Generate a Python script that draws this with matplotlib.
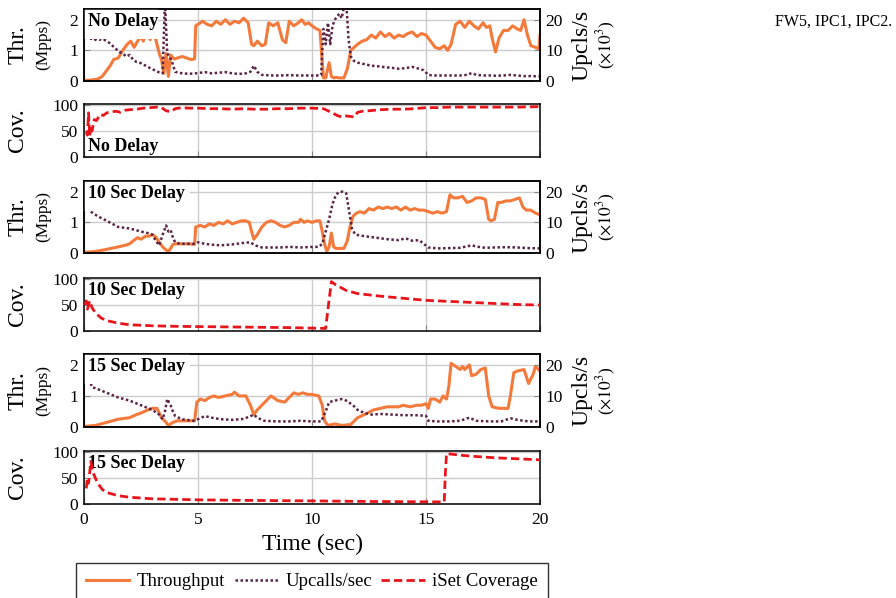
import matplotlib
matplotlib.use("Agg")
import matplotlib.pyplot as plt
from matplotlib.patches import Rectangle

plt.rcParams["font.family"] = ["Liberation Serif", "DejaVu Serif"]
plt.rcParams["mathtext.fontset"] = "stix"

# ---- data (time in sec, thr in Mpps, upcalls in x10^3/s, coverage in %) ----
# no delay
t_thr_nd = [0, 0.3, 0.6, 0.8, 1.0, 1.15, 1.3, 1.5, 1.7, 1.9, 2.05, 2.2, 2.35, 2.5, 2.6, 2.75, 2.9, 3.0, 3.15,
            3.3, 3.4, 3.5, 3.6, 3.7, 3.8, 3.95, 4.1, 4.3, 4.5, 4.7, 4.85, 4.9, 5.0, 5.2, 5.4, 5.6, 5.8, 6.0,
            6.2, 6.4, 6.6, 6.8, 7.0, 7.2, 7.35, 7.45, 7.6, 7.8, 7.95, 8.1, 8.3, 8.5, 8.7, 8.85, 9.0, 9.2,
            9.4, 9.55, 9.7, 9.85, 10.0, 10.2, 10.35, 10.5, 10.6, 10.75, 10.85, 10.95, 11.05, 11.2, 11.4,
            11.55, 11.7, 11.85, 12.0, 12.2, 12.4, 12.6, 12.8, 13.0, 13.2, 13.4, 13.6, 13.8, 14.0, 14.2,
            14.4, 14.6, 14.8, 15.0, 15.2, 15.4, 15.6, 15.8, 15.95, 16.1, 16.3, 16.5, 16.7, 16.9, 17.1,
            17.3, 17.5, 17.65, 17.8, 17.9, 18.05, 18.2, 18.4, 18.6, 18.8, 19.0, 19.15, 19.3, 19.45, 19.6,
            19.8, 19.95, 20.0]
thr_nd = [0.02, 0.03, 0.06, 0.15, 0.35, 0.5, 0.7, 0.75, 1.0, 1.2, 1.3, 1.1, 1.3, 1.45, 1.3, 1.7, 1.35, 1.6,
          1.35, 0.9, 0.7, 0.25, 0.9, 0.15, 0.85, 0.72, 0.75, 0.8, 0.75, 0.7, 0.72, 1.8, 1.85, 1.95, 1.85,
          1.8, 1.95, 1.85, 2.0, 1.85, 1.95, 1.9, 2.05, 1.9, 1.2, 1.15, 1.3, 1.15, 1.2, 1.9, 1.8, 1.9, 1.35,
          1.25, 1.95, 1.8, 1.9, 2.0, 1.85, 1.9, 1.8, 1.7, 1.65, 0.1, 0.1, 0.6, 0.15, 0.1, 0.12, 0.1, 0.1,
          0.4, 1.0, 1.1, 1.2, 1.3, 1.35, 1.5, 1.4, 1.6, 1.45, 1.55, 1.4, 1.5, 1.45, 1.55, 1.6, 1.45, 1.55,
          1.5, 1.3, 1.1, 1.05, 1.15, 1.0, 1.2, 1.85, 1.95, 1.75, 1.95, 1.8, 1.7, 1.9, 1.75, 1.8, 1.4, 0.95,
          1.4, 1.65, 1.65, 1.8, 1.7, 1.65, 2.0, 1.5, 1.15, 1.1, 1.05, 1.5]
t_up_nd = [0.3, 0.4, 0.5, 0.6, 0.7, 0.8, 0.9, 1.0, 1.1, 1.25, 1.4, 1.55, 1.7, 1.85, 2.0, 2.15, 2.3, 2.5, 2.7,
           2.9, 3.1, 3.3, 3.45, 3.55, 3.65, 3.75, 3.85, 4.0, 4.2, 4.5, 4.8, 5.0, 5.3, 5.6, 5.9, 6.2, 6.5,
           6.8, 7.1, 7.3, 7.45, 7.6, 7.8, 8.2, 8.6, 9.0, 9.4, 9.8, 10.2, 10.4, 10.5, 10.6, 10.7, 10.8,
           10.9, 11.0, 11.1, 11.2, 11.3, 11.4, 11.5, 11.6, 11.7, 11.85, 12.0, 12.3, 12.6, 12.9, 13.2, 13.5,
           13.8, 14.1, 14.4, 14.7, 14.9, 15.1, 15.3, 15.7, 16.1, 16.5, 16.8, 17.0, 17.2, 17.5, 17.8, 18.1,
           18.4, 18.7, 19.0, 19.3, 19.6, 20.0]
up_nd = [13.4, 16, 13.4, 18, 13.4, 15, 13.4, 13.0, 12.5, 11.5, 10.5, 9.5, 9.0, 8.0, 8.5, 7.0, 6.2, 5.8, 5.0,
         4.2, 3.5, 2.8, 2.5, 26, 9.0, 8.0, 6.5, 3.0, 2.6, 2.4, 2.4, 2.6, 2.9, 2.5, 2.7, 2.9, 2.5, 2.3, 2.5,
         3.0, 5.0, 3.0, 2.0, 1.8, 1.8, 1.9, 1.8, 1.8, 1.8, 1.9, 17, 12, 19, 12, 18, 20, 21, 22, 20.5, 24,
         26, 14, 8.0, 6.5, 6.0, 5.5, 5.0, 4.8, 4.5, 4.3, 4.0, 4.2, 4.6, 4.0, 3.5, 2.0, 1.8, 1.8, 1.8, 1.8,
         2.0, 2.6, 2.0, 1.8, 1.8, 1.7, 1.8, 2.0, 1.8, 1.6, 1.6, 1.5]
t_cov_nd = [0.1, 0.15, 0.2, 0.25, 0.3, 0.35, 0.45, 0.55, 0.7, 0.85, 1.0, 1.2, 1.4, 1.6, 1.8, 2.0, 2.3, 2.6,
            2.9, 3.2, 3.4, 3.6, 3.8, 4.0, 4.3, 4.6, 5.0, 5.5, 6.0, 6.5, 7.0, 7.5, 8.0, 8.5, 9.0, 9.5, 10.0,
            10.5, 10.8, 11.1, 11.3, 11.5, 11.7, 11.85, 12.0, 12.2, 12.5, 13.0, 13.5, 14.0, 14.5, 15.0, 15.5,
            16.0, 17.0, 18.0, 19.0, 20.0]
cov_nd = [48, 42, 85, 40, 60, 50, 72, 70, 82, 80, 85, 87, 88, 86, 90, 91, 92, 94, 95, 96, 95, 89, 87, 93, 95,
          94, 94, 93, 93, 92, 93, 92, 92, 93, 93, 94, 94, 93, 87, 80, 77, 79, 78, 77, 86, 88, 89, 91, 92, 92,
          93, 95, 95, 96, 96, 96, 96, 97]

# 10 sec delay
t_thr_10 = [0, 0.5, 1.0, 1.5, 1.8, 2.0, 2.2, 2.35, 2.5, 2.7, 2.85, 3.0, 3.15, 3.3, 3.45, 3.6, 3.7, 3.8, 3.9,
            4.0, 4.3, 4.6, 4.85, 4.9, 5.1, 5.3, 5.5, 5.7, 5.9, 6.1, 6.3, 6.5, 6.7, 6.9, 7.1, 7.25, 7.35,
            7.45, 7.6, 7.8, 8.0, 8.2, 8.4, 8.6, 8.8, 9.0, 9.2, 9.4, 9.5, 9.65, 9.8, 10.0, 10.2, 10.35,
            10.45, 10.55, 10.65, 10.75, 10.85, 10.95, 11.05, 11.2, 11.4, 11.55, 11.65, 11.8, 11.95, 12.1,
            12.3, 12.5, 12.7, 12.9, 13.1, 13.3, 13.5, 13.7, 13.9, 14.1, 14.3, 14.5, 14.7, 14.9, 15.1, 15.3,
            15.5, 15.7, 15.9, 16.05, 16.2, 16.4, 16.6, 16.8, 17.0, 17.2, 17.4, 17.6, 17.75, 17.85, 18.0,
            18.15, 18.3, 18.5, 18.7, 18.9, 19.1, 19.25, 19.4, 19.6, 19.8, 20.0]
thr_10 = [0.02, 0.05, 0.12, 0.2, 0.25, 0.3, 0.42, 0.5, 0.45, 0.55, 0.55, 0.6, 0.52, 0.35, 0.2, 0.1, 0.05,
          0.15, 0.28, 0.3, 0.3, 0.3, 0.28, 0.85, 0.9, 0.85, 0.95, 0.9, 1.0, 0.95, 1.05, 0.95, 1.0, 1.05,
          1.05, 1.0, 0.7, 0.45, 0.6, 0.85, 1.0, 1.05, 1.0, 0.9, 0.85, 0.9, 1.0, 1.0, 1.1, 1.0, 1.05, 1.0,
          1.05, 1.05, 0.7, 0.3, 0.05, 0.2, 0.65, 0.2, 0.15, 0.15, 0.15, 0.4, 0.8, 1.2, 1.3, 1.35, 1.3,
          1.45, 1.4, 1.5, 1.45, 1.5, 1.45, 1.5, 1.4, 1.5, 1.4, 1.45, 1.4, 1.4, 1.35, 1.3, 1.35, 1.3, 1.35,
          1.9, 1.8, 1.8, 1.85, 1.65, 1.7, 1.8, 1.8, 1.75, 1.1, 1.05, 1.1, 1.65, 1.65, 1.7, 1.7, 1.75, 1.8,
          1.5, 1.4, 1.4, 1.3, 1.25]
t_up_10 = [0.3, 0.6, 1.0, 1.5, 2.0, 2.5, 2.8, 3.0, 3.15, 3.3, 3.45, 3.6, 3.7, 3.8, 3.9, 4.0, 4.2, 4.5, 4.8,
           5.0, 5.3, 5.6, 6.0, 6.5, 7.0, 7.3, 7.5, 7.8, 8.2, 8.6, 9.0, 9.5, 10.0, 10.3, 10.45, 10.6, 10.75,
           10.9, 11.05, 11.2, 11.35, 11.5, 11.6, 11.75, 11.9, 12.3, 12.8, 13.3, 13.8, 14.1, 14.4, 14.7,
           14.9, 15.1, 15.5, 16.0, 16.5, 17.0, 17.3, 17.6, 18.0, 18.5, 19.0, 19.5, 20.0]
up_10 = [13.5, 12, 10.5, 8.5, 8, 7, 6.5, 6, 4, 2.5, 6, 9, 7, 7.5, 5, 3.5, 3.0, 3.0, 3.0, 3.5, 3.0, 2.7, 2.5,
         2.8, 3.3, 3.5, 2.5, 1.8, 1.8, 1.8, 2.0, 1.8, 2.0, 2.0, 3.0, 7.0, 11, 16, 19, 20, 20, 19.5, 15, 8, 6,
         5.5, 5, 4.5, 4.2, 4.8, 4.0, 4.2, 3.0, 1.8, 1.5, 1.6, 1.7, 2.5, 2.0, 1.7, 1.8, 1.9, 1.8, 1.6, 1.5]
t_cov_10 = [0.05, 0.1, 0.15, 0.25, 0.35, 0.5, 0.75, 1.0, 1.5, 2.0, 3.0, 4.0, 5.0, 6.0, 7.0, 8.0, 9.0, 10.0,
            10.6, 10.75, 10.85, 11.0, 11.5, 12.0, 13.0, 14.0, 15.0, 16.0, 17.0, 18.0, 19.0, 20.0]
cov_10 = [50, 58, 42, 58, 45, 35, 25, 20, 15, 12, 10, 9, 8.5, 8, 7.5, 7, 6.5, 5.5, 5, 60, 95, 90, 78, 72, 67,
          63, 59, 57, 55, 53, 51, 50]

# 15 sec delay
t_thr_15 = [0, 0.5, 1.0, 1.5, 2.0, 2.3, 2.5, 2.8, 3.0, 3.2, 3.4, 3.6, 3.7, 3.9, 4.1, 4.5, 4.85, 4.95, 5.1,
            5.3, 5.5, 5.7, 5.9, 6.2, 6.5, 6.6, 6.8, 7.1, 7.3, 7.45, 7.6, 7.8, 8.0, 8.2, 8.5, 8.8, 9.0, 9.2,
            9.4, 9.6, 9.8, 10.0, 10.3, 10.45, 10.55, 10.7, 11.0, 11.3, 11.7, 12.0, 12.3, 12.7, 13.0, 13.3,
            13.5, 13.8, 14.0, 14.3, 14.6, 14.8, 15.0, 15.1, 15.2, 15.4, 15.6, 15.75, 15.9, 16.0, 16.1, 16.3,
            16.5, 16.6, 16.7, 16.9, 17.0, 17.2, 17.4, 17.6, 17.75, 17.9, 18.2, 18.6, 18.7, 18.85, 19.0,
            19.3, 19.5, 19.7, 19.8, 20.0]
thr_15 = [0.02, 0.05, 0.15, 0.25, 0.3, 0.4, 0.45, 0.55, 0.6, 0.6, 0.3, 0.15, 0.05, 0.15, 0.2, 0.2, 0.2, 0.8,
          0.9, 0.85, 0.95, 1.0, 0.95, 1.0, 1.05, 1.12, 1.0, 1.0, 0.7, 0.4, 0.55, 0.7, 0.85, 1.0, 0.85, 0.8,
          0.95, 1.1, 1.05, 1.1, 1.05, 1.05, 1.0, 0.7, 0.2, 0.05, 0.1, 0.05, 0.08, 0.3, 0.4, 0.55, 0.6, 0.65,
          0.65, 0.65, 0.7, 0.65, 0.7, 0.7, 0.75, 0.6, 0.9, 0.9, 0.8, 1.0, 0.9, 1.3, 2.05, 1.95, 1.85, 1.95,
          1.85, 2.0, 1.65, 1.7, 1.85, 1.9, 1.0, 0.65, 0.6, 0.6, 1.0, 1.75, 1.8, 1.85, 1.4, 1.7, 1.95, 1.8]
t_up_15 = [0.3, 0.35, 0.5, 1.0, 1.5, 2.0, 2.5, 3.0, 3.3, 3.45, 3.55, 3.65, 3.8, 3.9, 4.0, 4.3, 4.8, 5.0, 5.3,
           5.6, 6.0, 6.5, 7.0, 7.3, 7.45, 7.6, 7.9, 8.5, 9.0, 9.5, 10.0, 10.4, 10.6, 10.75, 11.0, 11.3,
           11.5, 11.8, 12.0, 12.3, 12.6, 13.0, 13.5, 14.0, 14.5, 15.0, 15.1, 15.5, 16.0, 16.5, 16.9, 17.2,
           17.8, 18.3, 18.7, 19.0, 19.5, 20.0]
up_15 = [14, 12.8, 12.5, 11, 9.5, 8.5, 7, 5.5, 4, 2.5, 5, 9, 7, 5, 3.5, 2.5, 2.0, 2.5, 3.5, 3.0, 2.5, 2.3,
         2.6, 3.5, 4.0, 3.0, 2.0, 1.8, 1.8, 2.0, 1.8, 1.8, 5, 8, 8.5, 9, 8.5, 7, 5.5, 4.5, 4.0, 4.2, 4.0,
         3.8, 3.8, 3.6, 2.0, 1.8, 1.8, 2.0, 3.0, 2.0, 1.8, 1.8, 2.8, 2.3, 1.8, 1.8]
t_cov_15 = [0.1, 0.15, 0.2, 0.3, 0.4, 0.6, 0.8, 1.0, 1.5, 2.0, 3.0, 4.0, 5.0, 7.0, 10.0, 12.0, 14.0, 15.8,
            15.85, 15.9, 16.5, 17.0, 18.0, 19.0, 20.0]
cov_15 = [30, 50, 40, 82, 60, 40, 28, 22, 16, 13, 10, 9, 8, 7, 6, 5, 4.5, 4, 60, 97, 94, 92, 89, 87, 85]

labels = ["No Delay", "10 Sec Delay", "15 Sec Delay"]
thr_sets = [(t_thr_nd, thr_nd, t_up_nd, up_nd), (t_thr_10, thr_10, t_up_10, up_10),
            (t_thr_15, thr_15, t_up_15, up_15)]
cov_sets = [(t_cov_nd, cov_nd), (t_cov_10, cov_10), (t_cov_15, cov_15)]

c_thr = "#f47a3c"
c_up = "#5a2446"
c_cov = "#e8141c"
grid_c = "#cccccc"

W, H = 896, 598
fig = plt.figure(figsize=(W / 100, H / 100), dpi=100)
left, right = 84, 540

# panel edges in pixels (top, bottom)
thr_pos = [(9, 81), (181, 253), (354, 427)]
cov_pos = [(104, 157), (278, 331), (451, 504)]
# white label background width (axes fraction)
box_w = [0.163, 0.232, 0.232]


def make_ax(top, bot):
    return fig.add_axes([left / W, 1 - bot / H, (right - left) / W, (bot - top) / H])


def style(ax):
    ax.set_xlim(0, 20)
    ax.set_xticks([0, 5, 10, 15, 20])
    ax.grid(True, color=grid_c, lw=1)
    ax.set_axisbelow(True)
    ax.tick_params(direction="in", length=4, color="#888888", labelsize=12.5, pad=4)
    ax.tick_params(axis="x", pad=6)
    for s in ax.spines.values():
        s.set_linewidth(1.1)
        s.set_zorder(3)


for i in range(3):
    tt, thr, tu, up = thr_sets[i]
    ax = make_ax(*thr_pos[i])
    style(ax)
    ax.set_ylim(0, 2.35)
    ax.set_yticks([0, 1, 2])
    ax.tick_params(labelbottom=False)
    l_thr, = ax.plot(tt, thr, color=c_thr, lw=2.2, label="Throughput")
    ax2 = ax.twinx()
    ax2.set_ylim(0, 23.5)
    ax2.set_yticks([0, 10, 20])
    ax2.tick_params(direction="in", length=4, color="#888888", labelsize=12.5, pad=4)
    for s in ax2.spines.values():
        s.set_linewidth(1.1)
        s.set_zorder(3)
    l_up, = ax2.plot(tu, up, color=c_up, lw=1.8, ls=(0, (1, 1)), label="Upcalls/sec")
    ax2.add_patch(Rectangle((0, 0.585), box_w[i], 0.415, transform=ax2.transAxes,
                            facecolor="white", edgecolor="none", zorder=2.4))
    ax2.text(0.008, 0.94, labels[i], transform=ax2.transAxes, fontsize=13, fontweight="bold",
             va="top", ha="left", zorder=2.5)

    top, bot = thr_pos[i]
    yc = 1 - (top + bot) / 2 / H
    fig.text(18 / W, yc, "Thr.", rotation=90, fontsize=17, ha="center", va="center")
    fig.text(43 / W, yc, "(Mpps)", rotation=90, fontsize=12.5, ha="center", va="center")
    fig.text(582 / W, yc, "Upcls/s", rotation=90, fontsize=17, ha="center", va="center")
    fig.text(606 / W, yc, r"($\times 10^3$)", rotation=90, fontsize=12.5, ha="center", va="center")

    tc, cov = cov_sets[i]
    axc = make_ax(*cov_pos[i])
    style(axc)
    axc.set_ylim(0, 102)
    axc.set_yticks([0, 50, 100])
    if i < 2:
        axc.tick_params(labelbottom=False)
    l_cov, = axc.plot(tc, cov, color=c_cov, lw=2, ls=(0, (3, 1.5)), label="iSet Coverage", zorder=5)
    if i == 0:
        axc.text(0.008, 0.04, labels[i], transform=axc.transAxes, fontsize=13, fontweight="bold",
                 va="bottom", ha="left", zorder=3)
    else:
        axc.text(0.008, 0.93, labels[i], transform=axc.transAxes, fontsize=13, fontweight="bold",
                 va="top", ha="left", zorder=3)
    top, bot = cov_pos[i]
    fig.text(18 / W, 1 - (top + bot) / 2 / H, "Cov.", rotation=90, fontsize=17, ha="center", va="center")

axc.set_xlabel("Time (sec)", fontsize=17, labelpad=4)

leg = fig.legend([l_thr, l_up, l_cov], ["Throughput", "Upcalls/sec", "iSet Coverage"],
                 loc="upper center", bbox_to_anchor=(312 / W, 1 - 563 / H), ncol=3, fontsize=13.5,
                 frameon=True, fancybox=False, edgecolor="black", handlelength=2.3,
                 columnspacing=0.5, handletextpad=0.4, borderpad=0.55, borderaxespad=0)
leg.get_frame().set_linewidth(1.0)

fig.text(775 / W, 1 - 22 / H, "FW5, IPC1, IPC2.", fontsize=11.5, ha="left", va="center")

fig.savefig("out.png", dpi=100)
